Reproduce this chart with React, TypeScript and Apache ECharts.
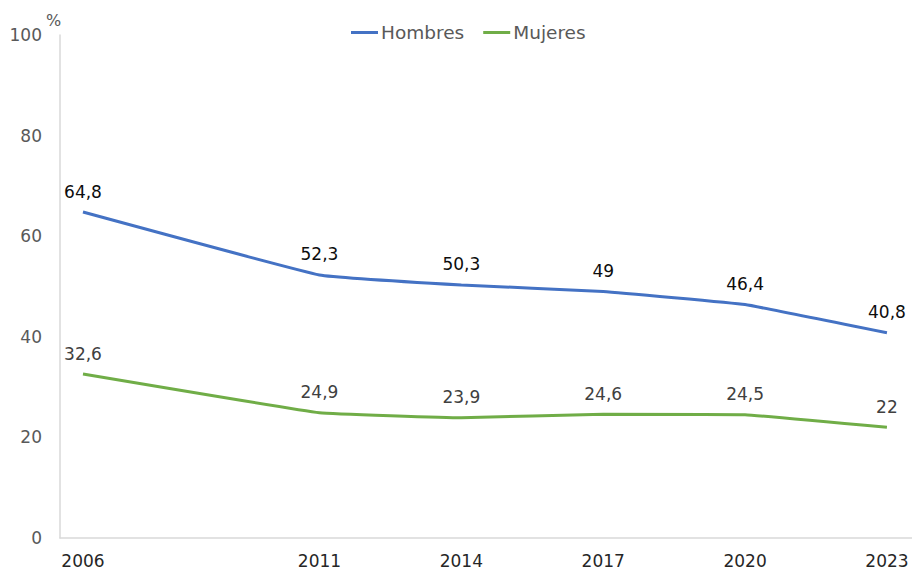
import React, { useEffect, useRef } from "react";
import * as echarts from "echarts";

const years = [2006, 2011, 2014, 2017, 2020, 2023];
const hombres = [64.8, 52.3, 50.3, 49, 46.4, 40.8];
const mujeres = [32.6, 24.9, 23.9, 24.6, 24.5, 22];
const yTicks = [0, 20, 40, 60, 80, 100];

const FONT = "DejaVu Sans";
const fmt = (v: number) => String(v).replace(".", ",");

export default function App() {
  const ref = useRef<HTMLDivElement>(null);
  useEffect(() => {
    document.body.style.margin = "0";
    const chart = echarts.init(ref.current!, null, { renderer: "svg" });
    const mkLabel = (color: string) => ({
      show: true,
      position: "top",
      distance: 12,
      fontFamily: FONT,
      fontSize: 17,
      color,
      formatter: (p: any) => fmt(p.value[1]),
    });
    chart.setOption({
      animation: false,
      backgroundColor: "#ffffff",
      textStyle: { fontFamily: FONT },
      grid: { left: 60, right: 0, top: 35, bottom: 37, containLabel: false },
      legend: {
        top: 18,
        left: 346,
        itemWidth: 27,
        itemHeight: 3,
        itemGap: 19,
        icon: "rect",
        textStyle: { fontFamily: FONT, fontSize: 18.5, color: "#595959", padding: [0, 0, 0, -2] },
        data: ["Hombres", "Mujeres"],
      },
      xAxis: {
        type: "value",
        min: 2005.514,
        max: 2023.53,
        axisLine: { show: true, lineStyle: { color: "#D9D9D9", width: 1.5 } },
        axisTick: { show: false },
        splitLine: { show: false },
        axisLabel: {
          customValues: years,
          margin: 14,
          fontFamily: FONT,
          fontSize: 17,
          color: "#262626",
          formatter: (v: number) => String(Math.round(v)),
        },
      },
      yAxis: {
        type: "value",
        min: 0,
        max: 100,
        interval: 20,
        axisLine: { show: true, lineStyle: { color: "#D9D9D9", width: 1.5 } },
        axisTick: { show: false },
        splitLine: { show: false },
        axisLabel: {
          customValues: yTicks,
          margin: 18,
          fontFamily: FONT,
          fontSize: 17,
          color: "#595959",
        },
      },
      graphic: [
        {
          type: "text",
          left: 46,
          top: 12,
          style: { text: "%", fontFamily: FONT, fontSize: 16, fill: "#595959" },
        },
      ],
      series: [
        {
          name: "Hombres",
          type: "line",
          data: years.map((y, i) => [y, hombres[i]]),
          smooth: 0.08,
          symbol: "circle",
          symbolSize: 0,
          showSymbol: true,
          lineStyle: { color: "#4472C4", width: 3 },
          itemStyle: { color: "#4472C4" },
          label: mkLabel("#0D0D0D"),
        },
        {
          name: "Mujeres",
          type: "line",
          data: years.map((y, i) => [y, mujeres[i]]),
          smooth: 0.08,
          symbol: "circle",
          symbolSize: 0,
          showSymbol: true,
          lineStyle: { color: "#70AD47", width: 3 },
          itemStyle: { color: "#70AD47" },
          label: mkLabel("#404040"),
        },
      ],
    });
    return () => chart.dispose();
  }, []);
  return <div ref={ref} style={{ width: 912, height: 575 }} />;
}
